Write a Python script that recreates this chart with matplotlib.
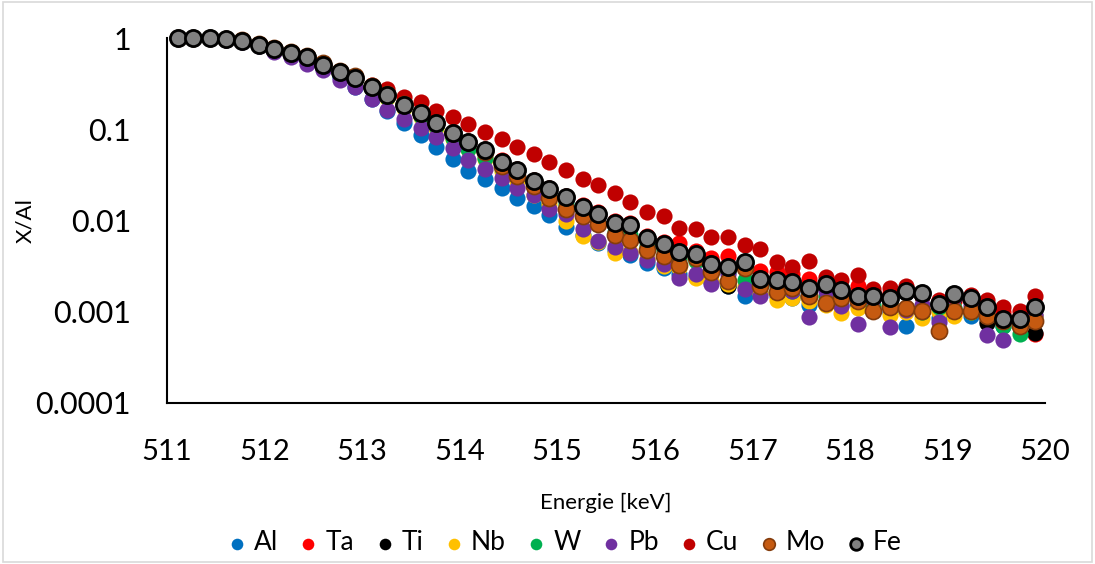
import matplotlib
matplotlib.use("Agg")
import matplotlib.pyplot as plt
from matplotlib.patches import Rectangle

plt.rcParams['font.family'] = ['Lato', 'DejaVu Sans']

# energie (keV)
energie = [511.11, 511.27, 511.44, 511.60, 511.77, 511.94, 512.10, 512.27, 512.43, 512.60,
           512.77, 512.93, 513.10, 513.26, 513.43, 513.60, 513.76, 513.93, 514.09, 514.26,
           514.43, 514.59, 514.76, 514.92, 515.09, 515.26, 515.42, 515.59, 515.75, 515.92,
           516.09, 516.25, 516.42, 516.58, 516.75, 516.92, 517.08, 517.25, 517.41, 517.58,
           517.75, 517.91, 518.08, 518.24, 518.41, 518.58, 518.74, 518.91, 519.07, 519.24,
           519.41, 519.57, 519.74, 519.90]

al = [1.0, 1.0, 0.99, 0.97, 0.93, 0.83, 0.74, 0.65, 0.57, 0.47,
      0.37, 0.29, 0.214, 0.158, 0.1185, 0.0866, 0.0639, 0.0478, 0.0345, 0.0282,
      0.0229, 0.0178, 0.0144, 0.0116, 0.00844, 0.00702, 0.0056, 0.0048, 0.0042, 0.0034,
      0.0030, 0.0026, 0.0024, 0.0021, 0.0019, 0.00150, 0.0016, 0.0015, 0.0014, 0.00119,
      0.0013, 0.0012, 0.00118, 0.0011, 0.0010, 0.00069, 0.0010, 0.00085, 0.0010, 0.0009,
      0.0008, 0.0007, 0.0007, 0.0009]

ta = [1.0, 1.0, 0.99, 0.97, 0.93, 0.84, 0.76, 0.68, 0.61, 0.51,
      0.42, 0.36, 0.29, 0.24, 0.19, 0.15, 0.118, 0.093, 0.075, 0.061,
      0.046, 0.037, 0.028, 0.0225, 0.0185, 0.0148, 0.0125, 0.0098, 0.0095, 0.0068,
      0.0058, 0.00569, 0.0046, 0.00389, 0.00405, 0.0034, 0.00277, 0.00271, 0.00262, 0.00226,
      0.0021, 0.00178, 0.00193, 0.0016, 0.0016, 0.0017, 0.0015, 0.0013, 0.0013, 0.0014,
      0.0012, 0.0010, 0.0009, 0.00057]

ti = [1.0, 1.0, 0.99, 0.975, 0.93, 0.83, 0.75, 0.67, 0.60, 0.50,
      0.41, 0.355, 0.28, 0.23, 0.18, 0.145, 0.113, 0.089, 0.071, 0.057,
      0.043, 0.034, 0.026, 0.021, 0.017, 0.0135, 0.0112, 0.0088, 0.0085, 0.0061,
      0.0052, 0.0043, 0.0040, 0.0031, 0.00193, 0.0033, 0.0021, 0.0020, 0.00147, 0.0014,
      0.0018, 0.0016, 0.00121, 0.0014, 0.0013, 0.0016, 0.0015, 0.0011, 0.0014, 0.0013,
      0.00075, 0.0008, 0.0008, 0.00058]

nb = [1.0, 1.0, 0.99, 0.97, 0.93, 0.83, 0.75, 0.67, 0.60, 0.50,
      0.41, 0.35, 0.275, 0.22, 0.17, 0.135, 0.103, 0.079, 0.060, 0.047,
      0.035, 0.027, 0.019, 0.0150, 0.0100, 0.00672, 0.0058, 0.0044, 0.0045, 0.0038,
      0.00318, 0.0030, 0.00235, 0.0022, 0.0020, 0.0019, 0.0016, 0.00135, 0.0014, 0.0013,
      0.0012, 0.00097, 0.0011, 0.0011, 0.00093, 0.0010, 0.00085, 0.0010, 0.00089, 0.0010,
      0.0009, 0.0008, 0.0008, 0.0009]

w = [1.0, 1.0, 0.99, 0.97, 0.93, 0.83, 0.75, 0.67, 0.60, 0.50,
     0.41, 0.35, 0.275, 0.225, 0.175, 0.140, 0.1087, 0.0796, 0.0614, 0.049,
     0.038, 0.030, 0.023, 0.0185, 0.0150, 0.0115, 0.0095, 0.0075, 0.0070, 0.0052,
     0.0047, 0.0038, 0.0036, 0.0028, 0.0027, 0.00225, 0.0021, 0.0019, 0.0017, 0.0016,
     0.0015, 0.0014, 0.0013, 0.0012, 0.0012, 0.0011, 0.0010, 0.00114, 0.0011, 0.0010,
     0.0009, 0.0007, 0.00057, 0.0008]

pb = [1.0, 1.0, 0.99, 0.96, 0.91, 0.81, 0.71, 0.62, 0.518, 0.445,
      0.345, 0.287, 0.216, 0.164, 0.131, 0.1044, 0.0827, 0.0630, 0.0456, 0.0363,
      0.0290, 0.0229, 0.0188, 0.0135, 0.0118, 0.00807, 0.00598, 0.00514, 0.00445, 0.00373,
      0.00337, 0.00235, 0.0026, 0.00203, 0.0026, 0.00177, 0.0015, 0.0020, 0.00167, 0.00087,
      0.0017, 0.00116, 0.00074, 0.00137, 0.00068, 0.00104, 0.0012, 0.00078, 0.00145, 0.0012,
      0.00056, 0.00049, 0.00077, 0.00093]

cu = [1.0, 1.0, 0.99, 0.98, 0.94, 0.85, 0.77, 0.69, 0.63, 0.53,
      0.44, 0.38, 0.305, 0.275, 0.226, 0.197, 0.158, 0.137, 0.1135, 0.0944,
      0.0777, 0.0645, 0.0538, 0.0437, 0.0357, 0.0288, 0.0243, 0.0198, 0.0160, 0.0124,
      0.0112, 0.00838, 0.00817, 0.00667, 0.00664, 0.00535, 0.00492, 0.00352, 0.00310, 0.00363,
      0.00241, 0.00225, 0.00251, 0.00178, 0.00182, 0.00193, 0.00158, 0.00136, 0.00150, 0.00154,
      0.00133, 0.00113, 0.00103, 0.00147]

mo = [1.0, 1.0, 1.0, 0.98, 0.95, 0.86, 0.78, 0.70, 0.64, 0.53,
      0.44, 0.38, 0.30, 0.245, 0.19, 0.152, 0.118, 0.092, 0.072, 0.057,
      0.040, 0.031, 0.024, 0.0175, 0.0132, 0.0111, 0.00904, 0.00685, 0.00618, 0.0048,
      0.00405, 0.00328, 0.00389, 0.00275, 0.00215, 0.00302, 0.0019, 0.00163, 0.0018, 0.0015,
      0.00125, 0.0014, 0.0013, 0.00101, 0.00114, 0.0011, 0.00103, 0.00062, 0.00103, 0.00101,
      0.0009, 0.0008, 0.00069, 0.0008]

fe = [1.0, 1.0, 0.99, 0.975, 0.934, 0.838, 0.757, 0.679, 0.614, 0.509,
      0.420, 0.363, 0.287, 0.237, 0.185, 0.149, 0.116, 0.0916, 0.0733, 0.0593,
      0.0442, 0.0354, 0.0273, 0.0219, 0.0179, 0.0142, 0.0119, 0.00934, 0.00893, 0.00639,
      0.00549, 0.00451, 0.00428, 0.00331, 0.00310, 0.00352, 0.00229, 0.00221, 0.00212, 0.00182,
      0.00201, 0.00175, 0.00150, 0.00149, 0.00142, 0.00170, 0.00160, 0.00122, 0.00157, 0.00142,
      0.00113, 0.00083, 0.00083, 0.00113]

namen = ['Al', 'Ta', 'Ti', 'Nb', 'W', 'Pb', 'Cu', 'Mo', 'Fe']
reihen = [al, ta, ti, nb, w, pb, cu, mo, fe]
farben = ['#0070C0', '#FF0000', '#000000', '#FFC000', '#00B050', '#7030A0', '#C00000', '#C55A11', '#808080']
kanten = ['#0070C0', '#FF0000', '#000000', '#FFC000', '#00B050', '#7030A0', '#C00000', '#843C0C', '#000000']

fig = plt.figure(figsize=(10.95, 5.64), dpi=100)
ax = fig.add_axes([167 / 1095, 1 - 403 / 564, (1045 - 167) / 1095, (403 - 38) / 564])

for name, y, fc, ec in zip(namen, reihen, farben, kanten):
    lw = 2.0 if name == 'Fe' else (1.2 if name == 'Mo' else 0)
    ax.scatter(energie, y, s=135, c=fc, edgecolors=ec, linewidths=lw, label=name,
               clip_on=False, zorder=3)

ax.set_yscale('log')
ax.set_ylim(1e-4, 1)
ax.set_xlim(511, 520)
ax.set_yticks([1e-4, 1e-3, 1e-2, 1e-1, 1], ['0.0001', '0.001', '0.01', '0.1', '1'])
ax.yaxis.set_minor_locator(matplotlib.ticker.NullLocator())
ax.set_xticks(range(511, 521))
ax.tick_params(axis='both', length=0)
ax.tick_params(axis='x', pad=26, labelsize=21)
ax.tick_params(axis='y', pad=26, labelsize=22)
for s in ['top', 'right']:
    ax.spines[s].set_visible(False)
for s in ['left', 'bottom']:
    ax.spines[s].set_linewidth(1.5)

ax.set_xlabel('Energie [keV]', fontsize=16)
ax.xaxis.set_label_coords(0.5, -0.245)
ax.set_ylabel('X/Al', fontsize=16)
ax.yaxis.set_label_coords(-0.15, 0.5)

fig.legend(loc='center', bbox_to_anchor=(0.515, 1 - 543 / 564), ncol=9, frameon=False,
           fontsize=19, markerscale=0.72, handlelength=0.8, handletextpad=0.25,
           columnspacing=0.75, borderaxespad=0)

fig.patches.append(Rectangle((0.003, 0.003), 0.994, 0.994, transform=fig.transFigure,
                             fill=False, edgecolor='#D9D9D9', linewidth=1.2))

fig.savefig('out.png', dpi=100)
